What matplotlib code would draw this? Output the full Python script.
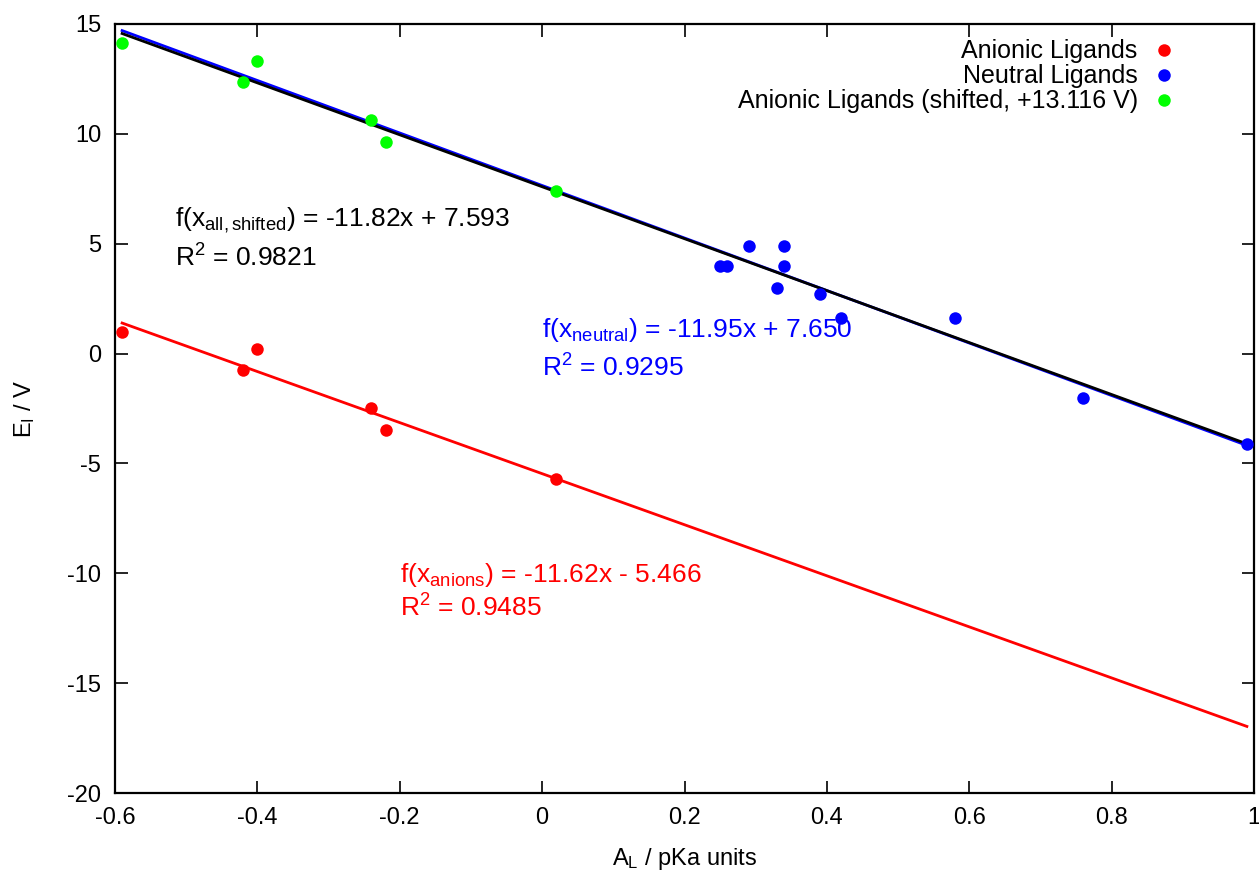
import matplotlib
matplotlib.use("Agg")
import matplotlib.pyplot as plt
import numpy as np

plt.rcParams['font.family'] = ['Liberation Sans', 'DejaVu Sans']
plt.rcParams['mathtext.fontset'] = 'custom'
plt.rcParams['mathtext.rm'] = 'Liberation Sans'
plt.rcParams['mathtext.it'] = 'Liberation Sans'
plt.rcParams['font.size'] = 17

# anionic ligands
x_anion = [-0.59, -0.42, -0.40, -0.24, -0.22, 0.02]
y_anion = [1.0, -0.75, 0.2, -2.5, -3.5, -5.7]
shift = 13.116
y_shifted = [v + shift for v in y_anion]

# neutral ligands
x_neutral = [0.25, 0.26, 0.29, 0.34, 0.34, 0.33, 0.39, 0.42, 0.58, 0.76, 0.99]
y_neutral = [4.0, 4.0, 4.9, 4.9, 4.0, 3.0, 2.7, 1.6, 1.6, -2.0, -4.1]

# fit coefficients as printed on the chart
fit_anion = (-11.62, -5.466)
fit_neutral = (-11.95, 7.650)
fit_all = (-11.82, 7.593)
fit_range = [-0.59, 0.99]

fig = plt.figure(figsize=(12.59, 8.71), dpi=100)
ax = fig.add_axes([115/1259, 1 - 793/871, 1139/1259, 769/871])

xs = np.array(fit_range)
ax.plot(xs, fit_anion[0] * xs + fit_anion[1], color='#ff0000', lw=2, zorder=2)
ax.plot(xs, fit_neutral[0] * xs + fit_neutral[1], color='#0000ff', lw=2, zorder=2)
ax.plot(xs, fit_all[0] * xs + fit_all[1], color='black', lw=2, zorder=2)

ax.plot(x_anion, y_anion, 'o', color='#ff0000', ms=9, mec='none', zorder=3, label='Anionic Ligands')
ax.plot(x_neutral, y_neutral, 'o', color='#0000ff', ms=9, mec='none', zorder=3, label='Neutral Ligands')
ax.plot(x_anion, y_shifted, 'o', color='#00ff00', ms=9, mec='none', zorder=3,
        label='Anionic Ligands (shifted, +13.116 V)')

fs = 19
ax.text(-0.516, 6.08, r'f(x$_{\mathrm{all,shifted}}$) = -11.82x + 7.593', color='black', va='center', fontsize=fs)
ax.text(-0.516, 4.35, r'R$^{2}$ = 0.9821', color='black', va='center', fontsize=fs)
ax.text(0.0, 1.07, r'f(x$_{\mathrm{neutral}}$) = -11.95x + 7.650', color='#0000ff', va='center', fontsize=fs)
ax.text(0.0, -0.65, r'R$^{2}$ = 0.9295', color='#0000ff', va='center', fontsize=fs)
ax.text(-0.2, -10.08, r'f(x$_{\mathrm{anions}}$) = -11.62x - 5.466', color='#ff0000', va='center', fontsize=fs)
ax.text(-0.2, -11.58, r'R$^{2}$ = 0.9485', color='#ff0000', va='center', fontsize=fs)

ax.set_xlim(-0.6, 1.0)
ax.set_ylim(-20, 15)
ax.set_xticks(np.arange(-0.6, 1.01, 0.2))
ax.set_xticklabels(['-0.6', '-0.4', '-0.2', '0', '0.2', '0.4', '0.6', '0.8', '1'])
ax.set_yticks(np.arange(-20, 16, 5))
ax.set_yticklabels(['-20', '-15', '-10', '-5', '0', '5', '10', '15'])
ax.tick_params(direction='in', length=9, width=1.2, top=True, right=True, pad=10)
for s in ax.spines.values():
    s.set_linewidth(1.6)

ax.set_xlabel(r'A$_{\mathrm{L}}$ / pKa units', labelpad=12)
ax.set_ylabel(r'E$_{\mathrm{I}}$ / V', labelpad=22)

leg = ax.legend(loc='upper right', bbox_to_anchor=(0.944, 0.98), frameon=False, markerfirst=False,
                borderpad=0, borderaxespad=0, labelspacing=0.04, handletextpad=0.0, handlelength=2.1,
                fontsize=18)

fig.savefig('out.png', dpi=100)
